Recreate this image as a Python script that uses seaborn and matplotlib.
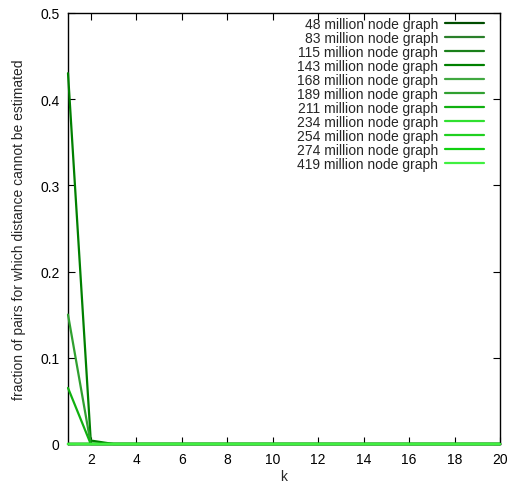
import seaborn as sns
import pandas as pd
import matplotlib.pyplot as plt
import numpy as np

sns.set_style("ticks")
plt.rcParams['font.family'] = ['Liberation Sans', 'DejaVu Sans']

k = list(range(1, 21))
graphs = ["48 million node graph", "83 million node graph", "115 million node graph",
          "143 million node graph", "168 million node graph", "189 million node graph",
          "211 million node graph", "234 million node graph", "254 million node graph",
          "274 million node graph", "419 million node graph"]
# value at k=1, k=2, k=3; zero afterwards
v48 = [0.0] * 20
v83 = [0.0] * 20
v115 = [0.0] * 20
v143 = [0.43, 0.004, 0.0] + [0.0] * 17
v168 = [0.0] * 20
v189 = [0.15, 0.0, 0.0] + [0.0] * 17
v211 = [0.065, 0.0, 0.0] + [0.0] * 17
v234 = [0.0] * 20
v254 = [0.0] * 20
v274 = [0.0] * 20
v419 = [0.0] * 20
series = [v48, v83, v115, v143, v168, v189, v211, v234, v254, v274, v419]
colors = ["#004d00", "#2a7f2a", "#1a801a", "#008000", "#40a840", "#30a030",
          "#10b010", "#30e030", "#20d020", "#10d010", "#40f040"]

rows = []
for name, vals in zip(graphs, series):
    for kk, v in zip(k, vals):
        rows.append({"k": kk, "frac": v, "graph": name})
df = pd.DataFrame(rows)

fig = plt.figure(figsize=(5.09, 4.85), dpi=100)
ax = fig.add_axes([0.1336, 0.0825, 0.849, 0.889])
sns.lineplot(data=df, x="k", y="frac", hue="graph", hue_order=graphs,
             palette=colors, linewidth=1.6, ax=ax)
for ln in ax.get_lines():
    ln.set_clip_on(False)
    ln.set_zorder(3)

ax.set_xlim(1, 20)
ax.set_ylim(0, 0.5)
ax.set_xticks(range(2, 21, 2))
ax.set_yticks(np.arange(0, 0.51, 0.1))
ax.set_yticklabels(["0", "0.1", "0.2", "0.3", "0.4", "0.5"])
ax.tick_params(direction="in", top=True, right=True, labelsize=10, length=5,
               width=0.8, colors="black", pad=6)
for s in ax.spines.values():
    s.set_color("black")
    s.set_linewidth(1.0)
    s.set_zorder(2)
ax.set_xlabel("k", fontsize=10, labelpad=2)
ax.set_ylabel("fraction of pairs for which distance cannot be estimated", fontsize=10,
              labelpad=10)

leg = ax.legend(loc="upper right", bbox_to_anchor=(0.963, 0.99), frameon=False,
                markerfirst=False, fontsize=10, handlelength=2.8, labelspacing=0.0,
                borderaxespad=0, borderpad=0, handletextpad=0.5)

plt.savefig("out.png", dpi=100)
